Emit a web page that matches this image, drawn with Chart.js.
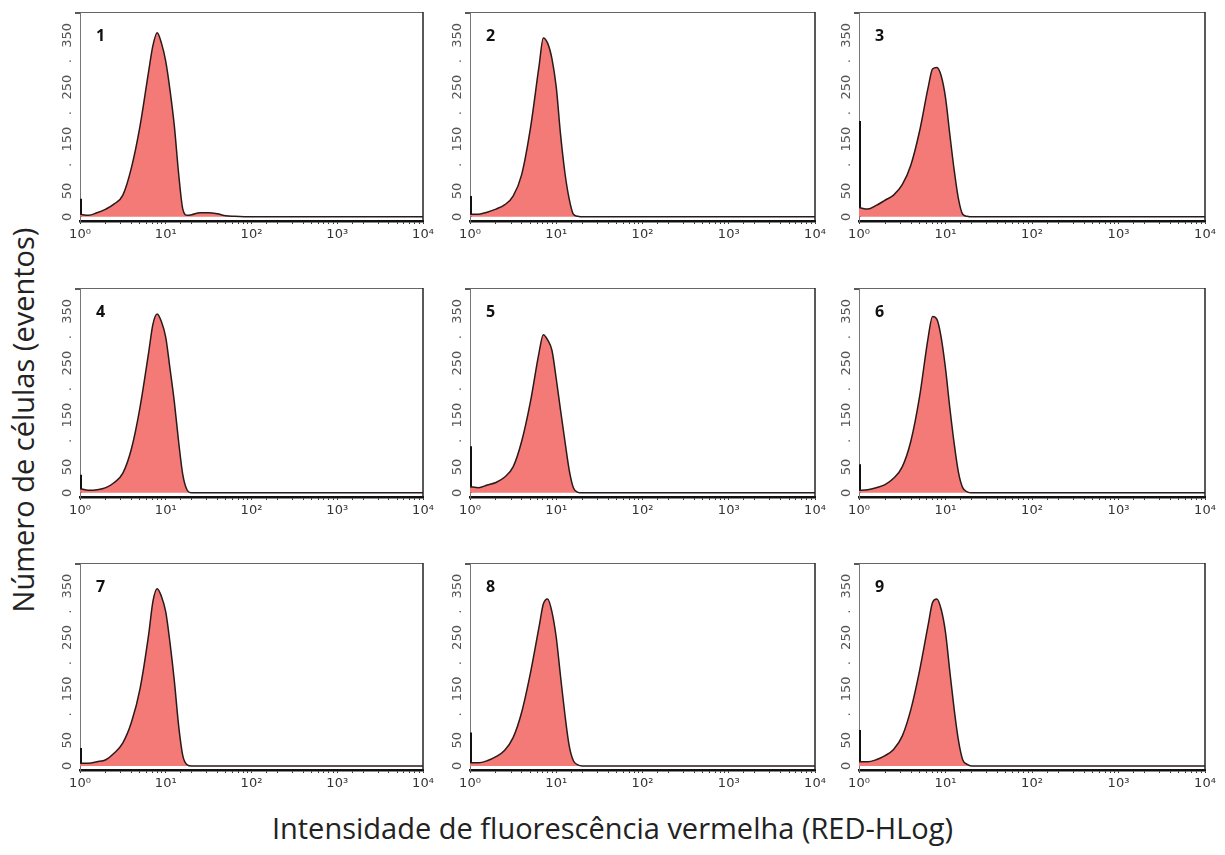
<!DOCTYPE html>
<html>
<head>
<meta charset="utf-8">
<script src="https://cdn.jsdelivr.net/npm/chart.js@4.4.1/dist/chart.umd.min.js"></script>
<style>
  body { margin: 0; background: #fff; width: 1225px; height: 855px; position: relative; overflow: hidden; font-family: "Open Sans", sans-serif; }
  canvas { position: absolute; }
  .xtitle { position: absolute; left: 0; width: 1225px; top: 808px; text-align: center; font-size: 29px; color: #222; }
  .ytitle { position: absolute; left: 22px; top: 420px; transform: translate(-50%, -50%) rotate(-90deg); white-space: nowrap; font-size: 29px; color: #222; }
</style>
</head>
<body>
<div class="ytitle">Número de células (eventos)</div>
<div class="xtitle">Intensidade de fluorescência vermelha (RED-HLog)</div>
<script>
// fluorescence channel (log scale, 10^0 .. 10^4)
const xValues = [1, 1.26, 1.58, 2.0, 2.51, 3.16, 3.98, 5.01, 6.31, 7.08, 7.94, 8.91, 10, 11.2, 12.6, 14.1, 15.8, 17.8, 20, 25.1, 31.6, 39.8, 50.1, 63.1, 100, 1000, 10000];

// cell counts per sample
const counts1 = [5, 3, 8, 15, 25, 42, 95, 175, 280, 330, 355, 335, 300, 245, 175, 85, 15, 3, 4, 8, 8, 6, 2, 1, 0, 0, 0];
const counts2 = [5, 5, 9, 15, 23, 40, 82, 170, 290, 345, 335, 305, 250, 160, 85, 35, 5, 1, 0, 0, 0, 0, 0, 0, 0, 0, 0];
const counts3 = [18, 15, 22, 32, 42, 62, 100, 165, 250, 285, 288, 272, 230, 160, 90, 35, 5, 1, 0, 0, 0, 0, 0, 0, 0, 0, 0];
const counts4 = [8, 5, 6, 10, 20, 38, 85, 165, 270, 325, 345, 330, 300, 240, 175, 100, 35, 5, 0, 0, 0, 0, 0, 0, 0, 0, 0];
const counts5 = [12, 10, 15, 20, 30, 50, 100, 175, 270, 305, 295, 275, 220, 160, 100, 45, 10, 1, 0, 0, 0, 0, 0, 0, 0, 0, 0];
const counts6 = [5, 6, 10, 16, 28, 50, 100, 185, 300, 340, 335, 300, 240, 165, 95, 40, 10, 2, 0, 0, 0, 0, 0, 0, 0, 0, 0];
const counts7 = [5, 5, 8, 12, 25, 45, 85, 150, 255, 320, 345, 330, 300, 240, 165, 80, 20, 2, 0, 0, 0, 0, 0, 0, 0, 0, 0];
const counts8 = [6, 6, 10, 18, 30, 55, 105, 180, 270, 315, 325, 300, 250, 175, 100, 40, 10, 2, 0, 0, 0, 0, 0, 0, 0, 0, 0];
const counts9 = [8, 8, 12, 20, 32, 58, 110, 185, 275, 318, 325, 305, 260, 185, 110, 50, 12, 3, 0, 0, 0, 0, 0, 0, 0, 0, 0];
const allCounts = [counts1, counts2, counts3, counts4, counts5, counts6, counts7, counts8, counts9];

// height of the debris spike at channel 10^0
const spikeHeights = [35, 40, 185, 35, 90, 55, 35, 65, 70];
const panelLabels = ['1', '2', '3', '4', '5', '6', '7', '8', '9'];

// ticks
const xTickValues = [1, 10, 100, 1000, 10000];
const xTickLabels = ['10⁰', '10¹', '10²', '10³', '10⁴'];
const yTickValues = [0, 50, 100, 150, 200, 250, 300, 350];
const yTickLabels = ['0', '50', '.', '150', '.', '250', '.', '350'];

// panel placement on the page
const colLeft = [80, 470, 859];
const colRight = [423, 815, 1205];
const rowTop = [12, 288, 563];
const rowBottom = [221, 497, 770];
const AXW = 45, AXH = 30, PADT = 14, PADR = 24;

const frame = {
  id: 'frame',
  afterDraw(chart, args, opts) {
    const { ctx, chartArea: a } = chart;
    ctx.save();
    ctx.strokeStyle = '#666';
    ctx.lineWidth = 1;
    ctx.beginPath(); ctx.moveTo(a.left, a.top + 0.5); ctx.lineTo(a.right, a.top + 0.5); ctx.stroke();
    ctx.strokeStyle = '#222';
    ctx.lineWidth = 1.5;
    ctx.beginPath(); ctx.moveTo(a.right, a.top); ctx.lineTo(a.right, a.bottom); ctx.stroke();
    ctx.beginPath(); ctx.moveTo(a.left - 5, a.top + 1); ctx.lineTo(a.left, a.top + 1); ctx.stroke();
    ctx.fillStyle = '#111';
    ctx.font = 'bold 16px "Open Sans"';
    ctx.textBaseline = 'middle';
    ctx.fillText(opts.label, a.left + 16, a.top + 24);
    ctx.restore();
  }
};

allCounts.forEach((counts, i) => {
  const col = i % 3, row = Math.floor(i / 3);
  const w = colRight[col] - colLeft[col];
  const h = rowBottom[row] - rowTop[row];
  const cv = document.createElement('canvas');
  cv.width = w + AXW + PADR;
  cv.height = h + AXH + PADT;
  cv.style.left = (colLeft[col] - AXW) + 'px';
  cv.style.top = (rowTop[row] - PADT) + 'px';
  document.body.appendChild(cv);

  new Chart(cv, {
    type: 'line',
    data: {
      datasets: [
        {
          data: xValues.map((x, k) => ({ x: x, y: counts[k] })),
          backgroundColor: '#f47a78',
          borderColor: '#2a1a1a',
          borderWidth: 1.5,
          pointRadius: 0,
          fill: 'origin',
          cubicInterpolationMode: 'monotone'
        },
        {
          data: [{ x: 1, y: 0 }, { x: 1, y: spikeHeights[i] }],
          borderColor: '#111',
          borderWidth: 4,
          pointRadius: 0,
          fill: false
        }
      ]
    },
    options: {
      responsive: false,
      animation: false,
      layout: { padding: { top: PADT, right: PADR, left: 0, bottom: 0 } },
      plugins: {
        legend: { display: false },
        tooltip: { enabled: false },
        frame: { label: panelLabels[i] }
      },
      scales: {
        x: {
          type: 'logarithmic',
          min: 1,
          max: 10000,
          afterFit: s => { s.height = AXH; },
          border: { color: '#111', width: 2.5 },
          grid: { drawOnChartArea: false, tickLength: 3, color: '#333' },
          ticks: {
            autoSkip: false,
            maxRotation: 0,
            padding: 3,
            color: '#333',
            font: { family: 'DejaVu Sans', size: 13 },
            callback: v => {
              const k = xTickValues.findIndex(t => Math.abs(t - v) < t * 1e-6);
              return k >= 0 ? xTickLabels[k] : '';
            }
          }
        },
        y: {
          min: -8,
          max: 395,
          afterFit: s => { s.width = AXW; },
          afterBuildTicks: s => { s.ticks = yTickValues.map(v => ({ value: v })); },
          border: { color: '#777', width: 1 },
          grid: { display: false, drawTicks: false, tickLength: 0 },
          ticks: {
            autoSkip: false,
            minRotation: 90,
            maxRotation: 90,
            crossAlign: 'center',
            padding: 0,
            color: '#555',
            font: { family: 'DejaVu Sans', size: 13 },
            callback: v => {
              const k = yTickValues.indexOf(v);
              return k >= 0 ? yTickLabels[k] : '';
            }
          }
        }
      }
    },
    plugins: [frame]
  });
});
</script>
</body>
</html>
